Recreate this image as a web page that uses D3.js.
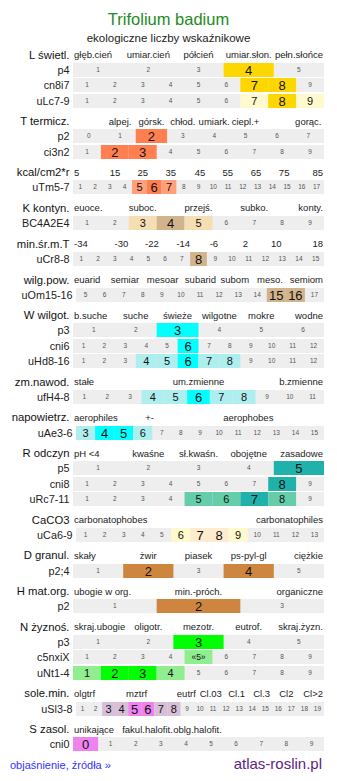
<!DOCTYPE html>
<html><head><meta charset="utf-8">
<script src="https://cdn.jsdelivr.net/npm/d3@7"></script>
<style>body{margin:0;background:#fff}svg{display:block;font-family:"Liberation Sans",Arial,sans-serif}</style>
</head><body><svg id="c" width="337" height="781"></svg>
<script>
// ---------- DATA ----------
const sectionNames = ["L świetl.","T termicz.","kcal/cm2*r","K kontyn.","min.śr.m.T","wilg.pow.","W wilgot.","zm.nawod.","napowietrz.","R odczyn","CaCO3","D granul.","H mat.org.","N żyznoś.","sole.min.","S zasol."];

const headerLabels = [
  ["głęb.cień","umiar.cień","półcień","umiar.słon.","pełn.słońce"],
  ["alpej.","górsk.","chłod.","umiark.","ciepl.+","gorąc."],
  ["5","15","25","35","45","55","65","75","85"],
  ["euoce.","suboc.","przejś.","subko.","konty."],
  ["-34","-30","-22","-14","-6","2","10","18"],
  ["euarid","semiar","mesoar","subarid","subom","meso.","semiom"],
  ["b.suche","suche","świeże","wilgotne","mokre","wodne"],
  ["stałe","um.zmienne","b.zmienne"],
  ["aerophiles","+-","aerophobes"],
  ["pH <4","kwaśne","sł.kwaśn.","obojętne","zasadowe"],
  ["carbonatophobes","carbonatophiles"],
  ["skały","żwir","piasek","ps-pyl-gl","ciężkie"],
  ["ubogie w org.","min.-próch.","organiczne"],
  ["skraj.ubogie","oligotr.","mezotr.","eutrof.","skraj.żyzn."],
  ["olgtrf","mztrf","eutrf","Cl.03","Cl.1","Cl.3","Cl2","Cl>2"],
  ["unikające","fakul.halofit.","oblg.halofit."]
];
// header label positions in units of the section's header scale (0..size)
const headerScaleSize = [5,8,17,9,15,13,6,11,13,5,13,5,3,5,19,10];
const headerPos = [
  [0,1.5,2.5,3.5,5],
  [1.5,2.5,3.5,4.5,5.5,7.5],
  [0,2.84,4.72,6.62,8.6,10.49,12.4,14.3,17],
  [0,2.5,4.5,6.5,9],
  [0,2.89,4.72,6.59,8.42,10.31,12.15,15],
  [0,2.69,4.64,6.6,8.38,10.2,13],
  [0,1.5,2.5,3.5,4.5,6],
  [0,5.5,11],
  [0,3.97,9.08],
  [0,1.5,2.5,3.5,5],
  [0,13],
  [0,1.5,2.5,3.5,5],
  [0,1.5,3],
  [0,1.5,2.5,3.5,5],
  [0,4.82,8.58,10.43,12.39,14.28,16.15,19],
  [0,2.97,4.96]
];

const rowLabels = [["p4","cn8i7","uLc7-9"],["p2","ci3n2"],["uTm5-7"],["BC4A2E4"],["uCr8-8"],["uOm15-16"],["p3","cni6","uHd8-16"],["ufH4-8"],["uAe3-6"],["p5","cni8","uRc7-11"],["uCa6-9"],["p2;4"],["p2"],["p3","c5nxiX","uNt1-4"],["uSl3-8"],["cni0"]];
const rowFirst = [[1,1,1],[0,1],[1],[1],[1],[5],[1,1,1],[1],[3],[1,1,1],[1],[1],[1],[1,1,1],[1],[0]];
const rowLast  = [[5,9,9],[7,9],[17],[9],[15],[17],[6,12,12],[11],[15],[5,9,9],[13],[5],[3],[5,9,9],[19],[9]];
const rowMain = [[[4],[7,8],[8]],[[2],[2,3]],[[6]],[[4]],[[8]],[[15,16]],[[3],[6],[6]],[[6]],[[4,5]],[[5],[8],[7]],[[7,8]],[[2,4]],[[2]],[[3],[],[2,3]],[[5,6]],[[0]]];
const rowSecondary = [[[],[],[7,9]],[[],[]],[[5,7]],[[3,5]],[[]],[[]],[[],[],[4,5,7,8]],[[4,5,7,8]],[[3,6]],[[],[],[5,6,8]],[[6,9]],[[]],[[]],[[],[5],[1,4]],[[3,4,7,8]],[[]]];
const uncertain = [["c5nxiX",5]];

// ---------- STYLE ----------
const mainColor = ["#FFD700","#FF7F50","#FF7F50","#D2B48C","#D2B48C","#D2B48C","#00FFFF","#00FFFF","#00FFFF","#20B2AA","#FFEBCD","#CD853F","#CD853F","#00FF00","#EE82EE","#EE82EE"];
const secColor  = ["#FFFACD","#FFA07A","#FFA07A","#F5DEB3","#F5DEB3","#F5DEB3","#AFEEEE","#AFEEEE","#AFEEEE","#66CDAA","#FFFACD","#F5DEB3","#F5DEB3","#90EE90","#D8BFD8","#D8BFD8"];
const wideRows = ["uOm15-16","uAe3-6","uCa6-9","uSl3-8"];

const X0 = 73, X1 = 324, ROWH = 14, PITCH = 15.4, SECSTEP = 35.73;

const svg = d3.select("#c");
svg.append("text").attr("x",168.5).attr("y",25).attr("text-anchor","middle")
  .attr("font-size",16.5).attr("fill","#228B22").text("Trifolium badium");
svg.append("text").attr("x",168.5).attr("y",41.5).attr("text-anchor","middle")
  .attr("font-size",11.5).attr("fill","#222").text("ekologiczne liczby wskaźnikowe");

let cur = 54.7;
sectionNames.forEach((name, s) => {
  const g = svg.append("g");
  const size = headerScaleSize[s];
  const hx = d3.scaleLinear().domain([0, size]).range([X0, X1]);
  g.append("text").attr("x",69.5).attr("y",cur).attr("dy","0.35em")
    .attr("text-anchor","end").attr("font-size",11.3).attr("fill","#111").text(name);
  g.selectAll("text.h").data(headerLabels[s]).join("text").attr("class","h")
    .attr("x",(d,i)=>{const p=headerPos[s][i]; return p===0?hx(p)+1:(p===size?hx(p)-1:hx(p));})
    .attr("text-anchor",(d,i)=>{const p=headerPos[s][i]; return p===0?"start":(p===size?"end":"middle");})
    .attr("y",cur).attr("dy","0.35em").attr("font-size",9.5).attr("fill","#222").text(d=>d);

  rowLabels[s].forEach((rl, r) => {
    const top = Math.round(cur + 8 + r*PITCH);
    const x0 = wideRows.includes(rl) ? 76 : X0;
    const cells = d3.range(rowFirst[s][r], rowLast[s][r] + 1);
    const x = d3.scaleBand().domain(cells).range([x0, X1]);
    const main = rowMain[s][r], sec = rowSecondary[s][r];
    const unc = uncertain.filter(u => u[0] === rl).map(u => u[1]);
    g.append("text").attr("x", x0 - 3.5).attr("y", top + ROWH/2).attr("dy","0.35em")
      .attr("text-anchor","end").attr("font-size",10.8).attr("fill","#222").text(rl);
    g.append("rect").attr("x",x0).attr("y",top).attr("width",X1-x0).attr("height",ROWH).attr("fill","#eeeeee");
    g.selectAll(null).data(cells.filter(c => main.includes(c) || sec.includes(c))).join("rect")
      .attr("x", d => x(d)).attr("y", top).attr("width", x.bandwidth()).attr("height", ROWH)
      .attr("fill", d => main.includes(d) ? mainColor[s] : secColor[s]);
    g.selectAll(null).data(cells).join("text")
      .attr("x", d => x(d) + x.bandwidth()/2).attr("y", top + ROWH/2).attr("dy","0.36em")
      .attr("text-anchor","middle")
      .attr("font-size", d => unc.includes(d) ? 8.5 : main.includes(d) ? 13 : sec.includes(d) ? 11 : 6.5)
      .attr("fill", d => (main.includes(d) || sec.includes(d)) ? "#111" : "#555")
      .text(d => unc.includes(d) ? "«" + d + "»" : d);
  });
  cur += SECSTEP + (rowLabels[s].length - 1) * PITCH;
});

svg.append("text").attr("x",10).attr("y",769).attr("font-size",11).attr("fill","#3333ff").text("objaśnienie, źródła »");
svg.append("text").attr("x",322).attr("y",769).attr("text-anchor","end").attr("font-size",15).attr("fill","#5c2483").text("atlas-roslin.pl");
</script></body></html>
